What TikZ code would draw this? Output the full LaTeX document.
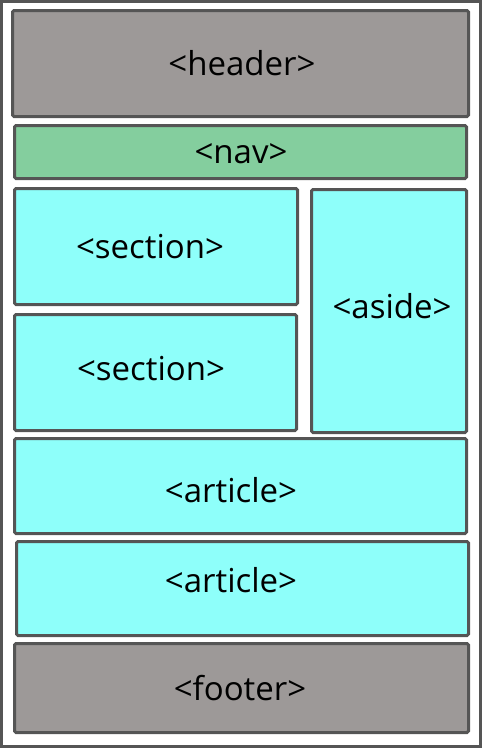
\documentclass[tikz,border=0pt]{standalone}
\usepackage{fontspec}
\setmainfont{Open Sans}
\definecolor{edge}{HTML}{555555}
\definecolor{graybox}{HTML}{9D9998}
\definecolor{greenbox}{HTML}{84CE9E}
\definecolor{cyanbox}{HTML}{8EFFFA}
\begin{document}
\begin{tikzpicture}[x=1pt,y=-1pt,
  blk/.style={draw=edge,line width=3pt,rounded corners=1.5pt,inner sep=0pt},
  lbl/.style={inner sep=0pt,font=\fontsize{33}{36}\selectfont,text=black}]
\useasboundingbox (0,0) rectangle (482,748);
\draw[edge,line width=3pt] (1.5,1.5) rectangle (480.5,746.5);
\node[blk,fill=graybox,minimum width=456pt,minimum height=106pt] (header) at (240.5,63.5) {};
\node[blk,fill=greenbox,minimum width=452pt,minimum height=53pt] (nav) at (240.5,152) {};
\node[blk,fill=cyanbox,minimum width=283pt,minimum height=116pt] (sec1) at (156,246.5) {};
\node[blk,fill=cyanbox,minimum width=155pt,minimum height=243pt] (aside) at (389,311) {};
\node[blk,fill=cyanbox,minimum width=282pt,minimum height=116pt] (sec2) at (155.5,372.5) {};
\node[blk,fill=cyanbox,minimum width=452pt,minimum height=95pt] (art1) at (240.5,486) {};
\node[blk,fill=cyanbox,minimum width=452pt,minimum height=94pt] (art2) at (242.5,588.5) {};
\node[blk,fill=graybox,minimum width=454pt,minimum height=89pt] (footer) at (241.5,688) {};
\node[lbl] (theader) at (242,63) {<header>};
\node[lbl] (tnav) at (241,154) {<nav>};
\node[lbl] (tsec1) at (150,247) {<section>};
\node[lbl] (taside) at (392,306) {<aside>};
\node[lbl] (tsec2) at (151,369) {<section>};
\node[lbl] (tart1) at (231,490) {<article>};
\node[lbl] (tart2) at (231,580) {<article>};
\node[lbl] (tfooter) at (240,688) {<footer>};
\end{tikzpicture}
\end{document}
